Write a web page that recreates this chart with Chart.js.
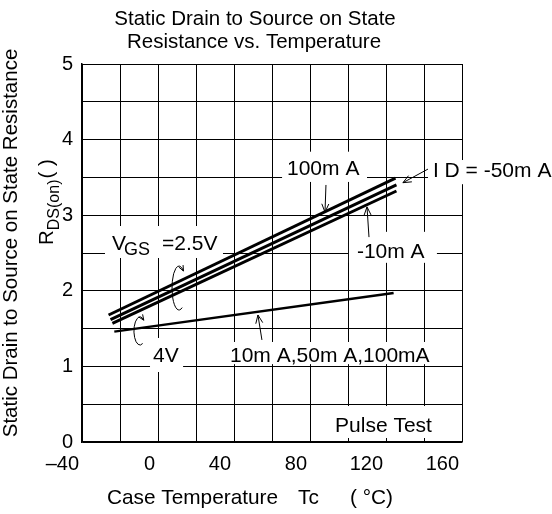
<!DOCTYPE html>
<html>
<head>
<meta charset="utf-8">
<script src="https://cdn.jsdelivr.net/npm/chart.js@4/dist/chart.umd.min.js"></script>
<style>
html,body{margin:0;padding:0;background:#fff;}
#wrap{width:552px;height:514px;position:relative;}
</style>
</head>
<body>
<div id="wrap"><canvas id="c" width="552" height="514"></canvas></div>
<script>
// ---- data ----
const titleLines = ['Static Drain to Source on State', 'Resistance vs. Temperature'];
const yTitleLine1 = 'Static Drain to Source on State Resistance';
const xTitleParts = ['Case Temperature', 'Tc', '( °C)'];

const xTickValues = [-40, 0, 40, 80, 120, 160];
const xTickLabels = ['\u201340', '0', '40', '80', '120', '160'];
const yTickValues = [0, 1, 2, 3, 4, 5];
const yTickLabels = ['0', '1', '2', '3', '4', '5'];

// VGS = 2.5 V curves (three drain currents)
const tempId100 = [-26, 125];
const rdsId100 = [1.68, 3.49];
const tempId50 = [-25, 125.5];
const rdsId50 = [1.62, 3.40];
const tempId10 = [-24, 125.5];
const rdsId10 = [1.57, 3.32];
// VGS = 4 V curve (10mA, 50mA, 100mA)
const tempVgs4 = [-23, 124];
const rdsVgs4 = [1.46, 1.97];

const labelTexts = ['100m A', 'I D = -50m A', '-10m A', 'V', 'GS', '=2.5V', '4V', '10m A,50m A,100mA', 'Pulse Test'];

function pts(xs, ys){ return xs.map((x,i)=>({x:x, y:ys[i]})); }

// ---- annotation placement (data units) ----
const boxes = [
  [65.3, 110, 3.44, 3.84],
  [142.1, 210, 3.41, 3.73],
  [100.5, 146.8, 2.37, 2.78],
  [-27.9, 34.2, 2.434, 2.857],
  [-4.2, 13.2, 0.926, 1.376],
  [35.8, 147.4, 1.03, 1.323],
  [90.5, 148.9, 0.053, 0.476]
];
const labelPos = [
  [67.9, 3.53, 21],
  [144.7, 3.505, 21],
  [104.7, 2.434, 21],
  [-24.2, 2.54, 21],
  [-17.9, 2.47, 18],
  [2.1, 2.54, 21],
  [-2.6, 1.058, 21],
  [37.9, 1.058, 21],
  [93.2, 0.132, 21]
];
const arrows = [
  [88.4, 3.40, 87.9, 3.04],
  [142.1, 3.61, 128.9, 3.43],
  [111.05, 2.71, 110, 3.11],
  [54.7, 1.35, 52.6, 1.68]
];
const loops = [
  [11.05, 2.037, 7, 22],
  [-9.5, 1.468, 6, 14]
];

const FONT = "'Liberation Sans', Arial, Helvetica, sans-serif";

function arrowHead(ctx, x1, y1, x2, y2, len){
  const a = Math.atan2(y2-y1, x2-x1);
  ctx.beginPath();
  ctx.moveTo(x2 - len*Math.cos(a-0.4), y2 - len*Math.sin(a-0.4));
  ctx.lineTo(x2, y2);
  ctx.lineTo(x2 - len*Math.cos(a+0.4), y2 - len*Math.sin(a+0.4));
  ctx.stroke();
}

const annotPlugin = {
  id: 'annot',
  beforeDatasetsDraw(chart){
    const ctx = chart.ctx, xs = chart.scales.x, ys = chart.scales.y;
    ctx.save();
    ctx.fillStyle = '#fff';
    boxes.forEach(b=>{
      const x1 = xs.getPixelForValue(b[0]), x2 = xs.getPixelForValue(b[1]);
      const y1 = ys.getPixelForValue(b[3]), y2 = ys.getPixelForValue(b[2]);
      ctx.fillRect(x1, y1, x2-x1, y2-y1);
    });
    ctx.fillStyle = '#000';
    ctx.textAlign = 'left';
    ctx.textBaseline = 'alphabetic';
    labelTexts.forEach((t,i)=>{
      const p = labelPos[i];
      ctx.font = p[2] + 'px ' + FONT;
      ctx.fillText(t, xs.getPixelForValue(p[0]), ys.getPixelForValue(p[1]));
    });
    ctx.restore();
  },
  afterDraw(chart){
    const ctx = chart.ctx, xs = chart.scales.x, ys = chart.scales.y;
    ctx.save();
    ctx.strokeStyle = '#000';
    ctx.lineWidth = 1;
    arrows.forEach(a=>{
      const x1 = xs.getPixelForValue(a[0]), y1 = ys.getPixelForValue(a[1]);
      const x2 = xs.getPixelForValue(a[2]), y2 = ys.getPixelForValue(a[3]);
      ctx.beginPath(); ctx.moveTo(x1,y1); ctx.lineTo(x2,y2); ctx.stroke();
      arrowHead(ctx, x1, y1, x2, y2, 9);
    });
    loops.forEach(l=>{
      const cx = xs.getPixelForValue(l[0]), cy = ys.getPixelForValue(l[1]);
      const rx = l[2], ry = l[3];
      const a0 = 0.35*Math.PI, a1 = 1.72*Math.PI;
      ctx.beginPath();
      ctx.ellipse(cx, cy, rx, ry, 0, a0, a1, false);
      ctx.stroke();
      const ex = cx + rx*Math.cos(a1), ey = cy + ry*Math.sin(a1);
      const px = cx + rx*Math.cos(a1-0.25), py = cy + ry*Math.sin(a1-0.25);
      arrowHead(ctx, px, py, ex, ey, 6);
    });
    // titles
    ctx.fillStyle = '#000';
    ctx.textBaseline = 'alphabetic';
    ctx.font = '20.5px ' + FONT;
    ctx.textAlign = 'center';
    ctx.fillText(titleLines[0], 255, 25);
    ctx.fillText(titleLines[1], 254, 48);
    // x-axis title
    ctx.textAlign = 'left';
    ctx.font = '20.8px ' + FONT;
    ctx.fillText(xTitleParts[0], 107, 504);
    ctx.fillText(xTitleParts[1], 298, 504);
    ctx.fillText(xTitleParts[2], 350, 504);
    // y-axis title
    ctx.font = '20.5px ' + FONT;
    ctx.save();
    ctx.translate(16.5, 243);
    ctx.rotate(-Math.PI/2);
    ctx.textAlign = 'center';
    ctx.fillText(yTitleLine1, 0, 0);
    ctx.restore();
    ctx.save();
    ctx.translate(53, 245);
    ctx.rotate(-Math.PI/2);
    ctx.textAlign = 'left';
    ctx.font = '20.5px ' + FONT;
    ctx.fillText('R', 0, 0);
    let w = ctx.measureText('R').width;
    ctx.font = '16px ' + FONT;
    ctx.fillText('DS(on)', w, 6);
    w += ctx.measureText('DS(on)').width + 1;
    ctx.font = '20.5px ' + FONT;
    ctx.fillText('( )', w, 0);
    ctx.restore();
    ctx.restore();
  }
};

const lineStyle = {borderColor:'#000', borderWidth:3, pointRadius:0, fill:false, tension:0};

new Chart(document.getElementById('c'), {
  type: 'line',
  data: {
    datasets: [
      Object.assign({label:'ID=100mA', data: pts(tempId100, rdsId100)}, lineStyle),
      Object.assign({label:'ID=-50mA', data: pts(tempId50, rdsId50)}, lineStyle),
      Object.assign({label:'ID=-10mA', data: pts(tempId10, rdsId10)}, lineStyle),
      Object.assign({label:'VGS=4V', data: pts(tempVgs4, rdsVgs4), borderWidth:2.5}, {borderColor:'#000', pointRadius:0, fill:false, tension:0})
    ]
  },
  options: {
    responsive: false,
    animation: false,
    devicePixelRatio: 1,
    layout: {padding: {left:0, top:64, right:90, bottom:0}},
    plugins: {legend:{display:false}, title:{display:false}, tooltip:{enabled:false}},
    scales: {
      x: {
        type: 'linear', min: -40, max: 160,
        afterFit: s => { s.height = 72; },
        grid: {color:'#000', lineWidth:1, drawTicks:false},
        border: {display:true, color:'#000', width:1.5},
        ticks: {
          stepSize: 20, autoSkip: false, maxRotation: 0, align: 'end', labelOffset: -3, padding: 10,
          color:'#000', font:{family: FONT, size: 20},
          callback: v => { const i = xTickValues.indexOf(v); return i >= 0 ? xTickLabels[i] : ''; }
        }
      },
      y: {
        type: 'linear', min: 0, max: 5,
        afterFit: s => { s.width = 82; },
        grid: {color:'#000', lineWidth:1, drawTicks:false},
        border: {display:true, color:'#000', width:1.5},
        ticks: {
          stepSize: 0.5, autoSkip: false, padding: 9,
          color:'#000', font:{family: FONT, size: 20},
          callback: v => { const i = yTickValues.indexOf(v); return i >= 0 ? yTickLabels[i] : ''; }
        }
      }
    }
  },
  plugins: [annotPlugin]
});
</script>
</body>
</html>
